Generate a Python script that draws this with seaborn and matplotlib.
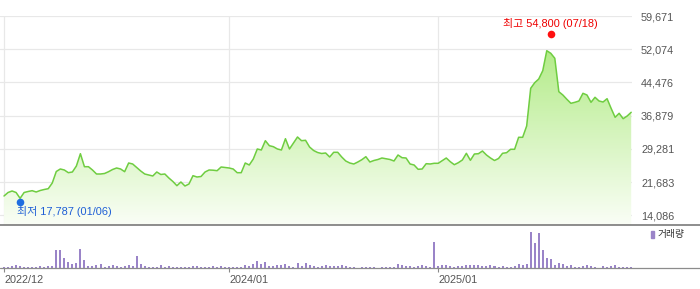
import numpy as np
import pandas as pd
import matplotlib
matplotlib.use('Agg')
import matplotlib.pyplot as plt
import matplotlib.transforms as mtransforms
from matplotlib.lines import Line2D
from matplotlib.patches import Patch
from matplotlib.colors import LinearSegmentedColormap
import seaborn as sns

# ---------------- data ----------------
start_date = '2022-12-09'   # weekly points
price = [18487, 19288, 19631, 19288, 17950, 19288, 19517, 19700, 19402, 19745,
         19974, 20157, 21461, 24093, 24665, 24436, 23818, 23978, 25351, 28165,
         25191, 25191, 24436, 23521, 23521, 23635, 24047, 24550, 24893, 24665,
         24047, 26037, 25809, 25008, 24207, 23521, 23292, 23063, 23978, 23406,
         23521, 22605, 21805, 20844, 21690, 20775, 21233, 23132, 22834, 22949,
         23978, 24436, 24390, 24276, 25122, 25008, 24893, 24665, 23818, 23818,
         26037, 25580, 26953, 29241, 29012, 31140, 29996, 29767, 29241, 29012,
         31597, 29241, 30613, 31986, 31140, 31231, 29698, 28897, 28440, 28211,
         28325, 27410, 28486, 28486, 27410, 26495, 26037, 25809, 26266, 26792,
         27479, 26266, 26609, 26838, 27181, 27021, 26838, 26495, 27868, 27250,
         27181, 25809, 25580, 24596, 24665, 25877, 25809, 25969, 25969, 26564,
         27181, 26335, 25648, 26106, 26724, 28257, 26655, 28097, 28165, 28783,
         27868, 27181, 26609, 27067, 28257, 28394, 29172, 29172, 31918, 31918,
         34503, 43129, 44410, 45257, 47156, 51732, 51137, 49993, 42351, 41596,
         40612, 39697, 39926, 40223, 41985, 41596, 39926, 41070, 40223, 39994,
         40749, 38553, 36494, 37409, 36173, 36791, 37638]
volume = [30, 40, 70, 100, 70, 40, 40, 40, 40, 70,
          40, 70, 70, 550, 550, 310, 190, 130, 160, 580,
          250, 70, 70, 100, 130, 40, 70, 100, 70, 40,
          70, 100, 70, 370, 130, 70, 40, 40, 40, 100,
          40, 70, 40, 40, 40, 40, 40, 70, 70, 40,
          40, 40, 70, 40, 70, 40, 40, 40, 40, 40,
          100, 70, 130, 220, 130, 190, 70, 70, 100, 100,
          130, 70, 40, 160, 70, 160, 100, 70, 40, 70,
          100, 80, 80, 80, 110, 80, 50, 50, 5, 50,
          50, 50, 50, 5, 50, 50, 50, 50, 140, 110,
          80, 80, 50, 80, 110, 80, 50, 800, 80, 110,
          110, 80, 50, 80, 80, 110, 110, 110, 110, 80,
          80, 110, 80, 50, 80, 50, 50, 80, 140, 110,
          140, 1100, 760, 1070, 550, 310, 280, 110, 170, 140,
          80, 110, 50, 50, 80, 110, 80, 50, 5, 80,
          50, 80, 110, 50, 50, 50, 50]
y_ticks = [14086, 21683, 29281, 36879, 44476, 52074, 59671]
x_tick_labels = ['2022/12', '2024/01', '2025/01']
low_value, low_date, low_label = 17787, '2023-01-06', '최저 17,787 (01/06)'
high_value, high_date, high_label = 54800, '2025-07-18', '최고 54,800 (07/18)'
volume_label = '거래량'

# ---------------- style ----------------
sns.set_theme(style='white')
plt.rcParams['font.family'] = ['Liberation Sans', 'Noto Sans CJK KR', 'DejaVu Sans']

dates = pd.date_range(start_date, periods=len(price), freq='7D')
df = pd.DataFrame({'idx': np.arange(len(price)), 'date': dates,
                   'price': price, 'volume': volume})

W, H = 700, 289
fig = plt.figure(figsize=(W / 100, H / 100), dpi=100)


def frac(x0, y0, x1, y1):
    return [x0 / W, 1 - y1 / H, (x1 - x0) / W, (y1 - y0) / H]


ax = fig.add_axes(frac(0, 16, 632, 225))
axv = fig.add_axes(frac(0, 225, 632, 268.3))

xlo, xhi = -1.0, len(price) - 1 + 0.2
ylo, yhi = 11850, y_ticks[-1]

# tick positions = first weekly point of each labelled month
tick_idx = []
for lab in x_tick_labels:
    y_, m_ = map(int, lab.split('/'))
    tick_idx.append(int(df.index[(df.date.dt.year == y_) & (df.date.dt.month == m_)][0]))

# gradient area under the price line
poly = ax.fill_between(df.idx, df.price, ylo, color='none', lw=0)
cmap = LinearSegmentedColormap.from_list('g', ['#fafef6', '#a6e874'])
grad = np.linspace(0, 1, 256).reshape(-1, 1)
im = ax.imshow(grad, extent=[xlo, xhi, ylo, yhi], origin='lower', aspect='auto',
               cmap=cmap, zorder=1, interpolation='bilinear')
im.set_clip_path(poly.get_paths()[0], transform=ax.transData)

sns.lineplot(data=df, x='idx', y='price', ax=ax, color='#6fcd41', lw=1.1, zorder=3)

ax.set_xlim(xlo, xhi)
ax.set_ylim(ylo, yhi)
ax.set_yticks(y_ticks)
ax.set_yticklabels([f'{v:,}' for v in y_ticks])
ax.set_xticks(tick_idx)
ax.grid(True, color='#e8e8e8', lw=0.9, zorder=0)
ax.set_axisbelow(True)
ax.yaxis.tick_right()
ax.tick_params(axis='y', length=0, pad=6.5, labelsize=7.8, labelcolor='#555555')
ax.tick_params(axis='x', length=0, labelbottom=False)
ax.set_xlabel('')
ax.set_ylabel('')
for s in ax.spines.values():
    s.set_visible(False)

# low / high markers
low_i = int(df.index[df.date == pd.Timestamp(low_date)][0])
high_i = int(df.index[df.date == pd.Timestamp(high_date)][0])
tr_low = mtransforms.offset_copy(ax.transData, fig=fig, x=0, y=-2.7, units='dots')
tr_high = mtransforms.offset_copy(ax.transData, fig=fig, x=0, y=3.0, units='dots')
ax.scatter([low_i], [low_value], s=30, color='#1f6ee0', transform=tr_low, zorder=5,
           clip_on=False, linewidths=0)
ax.scatter([high_i], [high_value], s=30, color='#ff1010', transform=tr_high, zorder=5,
           clip_on=False, linewidths=0)
ax.annotate(low_label, (low_i, low_value), xytext=(-3.5, -12.7), textcoords='offset pixels',
            ha='left', va='center', color='#1f5fd6', fontsize=7.9, zorder=6)
ax.annotate(high_label, (high_i, high_value), xytext=(0, 14), textcoords='offset pixels',
            ha='center', va='center', color='#ee0000', fontsize=7.9, zorder=6)

# volume bars
bar_color = '#9a84c8'
sns.barplot(data=df, x='idx', y='volume', ax=axv, native_scale=True, color=bar_color,
            width=0.5, saturation=1, errorbar=None, linewidth=0, edgecolor='none')
for p in axv.patches:
    p.set_antialiased(False)
axv.set_xlim(xlo, xhi)
axv.set_ylim(0, 1300)
axv.set_yticks([])
axv.set_xticks(tick_idx)
axv.set_xticklabels(x_tick_labels, ha='left')
axv.tick_params(axis='x', length=3, width=0.8, color='#888888', pad=2,
                labelsize=7.8, labelcolor='#555555', bottom=True)
axv.set_xlabel('')
axv.set_ylabel('')
for s in axv.spines.values():
    s.set_visible(False)
axv.legend(handles=[Patch(color=bar_color, label=volume_label)], loc='upper left',
           bbox_to_anchor=(651 / W, 1 - 229.5 / H), bbox_transform=fig.transFigure,
           frameon=False, handlelength=0.28, handleheight=0.75, handletextpad=0.35,
           borderpad=0, borderaxespad=0, fontsize=7, labelcolor='#333333')

# full-width separator lines
fig.add_artist(Line2D([0, 1], [1 - 225 / H] * 2, transform=fig.transFigure,
                      color='#7a7a7a', lw=1.2))
fig.add_artist(Line2D([0, 1], [1 - 268.3 / H] * 2, transform=fig.transFigure,
                      color='#8c8c8c', lw=0.9))

fig.savefig('out.png', dpi=100)
